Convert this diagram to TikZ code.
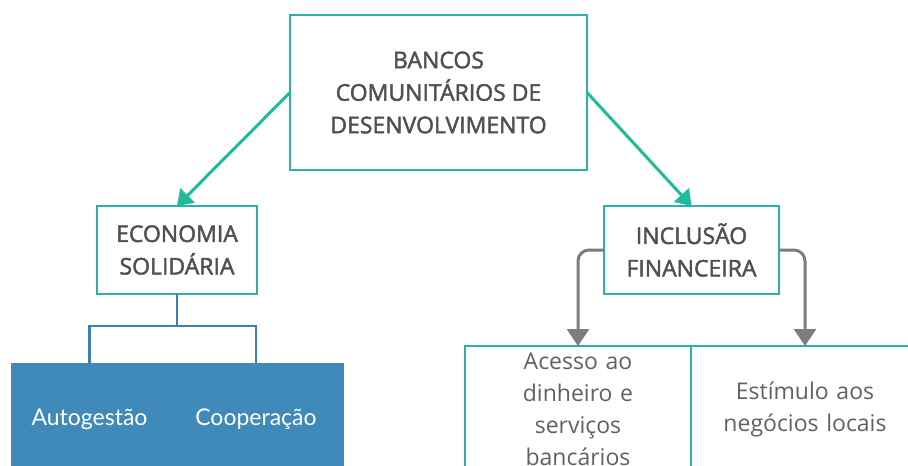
\documentclass[tikz,border=0pt]{standalone}
\usepackage{fontspec}
\setmainfont{Open Sans}
\newfontfamily\headfont{Open Sans}[FakeBold=2]
\newfontfamily\latofont{Lato}
\usetikzlibrary{arrows.meta, positioning}
\definecolor{tealline}{RGB}{43,176,170}
\definecolor{greenarrow}{RGB}{30,188,154}
\definecolor{grayarrow}{RGB}{125,125,125}
\definecolor{textgray}{RGB}{80,80,80}
\definecolor{bluefill}{RGB}{64,138,186}
\definecolor{blueline}{RGB}{58,128,182}
\tikzset{
    topic/.style={rectangle, draw=tealline, line width=2.5pt, fill=white, text=textgray, align=center, inner sep=0pt, outer sep=0pt, font=\headfont\fontsize{23}{32.5}\selectfont},
    subtopic/.style={rectangle, draw=tealline, line width=2.5pt, fill=white, text=textgray!90, align=center, inner sep=0pt, outer sep=0pt, text width=180pt, font=\fontsize{23}{32}\selectfont},
    leaf/.style={rectangle, fill=bluefill, text=white, align=center, inner sep=0pt, outer sep=0pt, minimum height=112pt, font=\latofont\fontsize{23}{28}\selectfont},
    arrow/.style={draw=greenarrow, line width=3pt, -{Triangle[length=15pt, width=20pt]}},
    grayline/.style={draw=grayarrow, line width=3pt, rounded corners=11pt, -{Triangle[length=17pt, width=22pt]}},
    treeline/.style={draw=blueline, line width=2.5pt}
}
\begin{document}
\begin{tikzpicture}[x=1pt, y=-1pt]
    \useasboundingbox (0,0) rectangle (908,466);
    \clip (0,0) rectangle (908,466);
    % Nodes
    \node (bancos) [topic, minimum width=297pt, minimum height=155pt] at (438.5,92.5) {BANCOS\\COMUNITÁRIOS DE\\DESENVOLVIMENTO};
    \node (econ) [topic, minimum width=160pt, minimum height=88pt, below left=36pt and 33pt of bancos.south west, anchor=north east] {ECONOMIA\\SOLIDÁRIA};
    \node (incl) [topic, minimum width=175pt, minimum height=88pt, below right=36pt and 17pt of bancos.south east, anchor=north west] {INCLUSÃO\\FINANCEIRA};
    \node (auto) [leaf, minimum width=157pt] at (89.5,419) {Autogestão};
    \node (coop) [leaf, minimum width=176pt, right=0pt of auto] {Cooperação};
    \node (acesso) [subtopic, minimum width=226pt, minimum height=126pt] at (578,409) {Acesso ao\\dinheiro e\\serviços\\bancários};
    \node (estimulo) [subtopic, minimum width=228pt, minimum height=126pt, right=0pt of acesso] {Estímulo aos\\negócios locais};
    % Arrows
    \draw [arrow] (bancos.west) -- (econ.north);
    \draw [arrow] (bancos.east) -- (incl.north);
    \draw [grayline] (incl.west) -| (acesso.north);
    \draw [grayline] (incl.east) -| (estimulo.north);
    \draw [treeline] (econ.south) -- ++(0,32) coordinate (split);
    \draw [treeline] (auto.north) |- (split) -| (coop.north);
\end{tikzpicture}
\end{document}
